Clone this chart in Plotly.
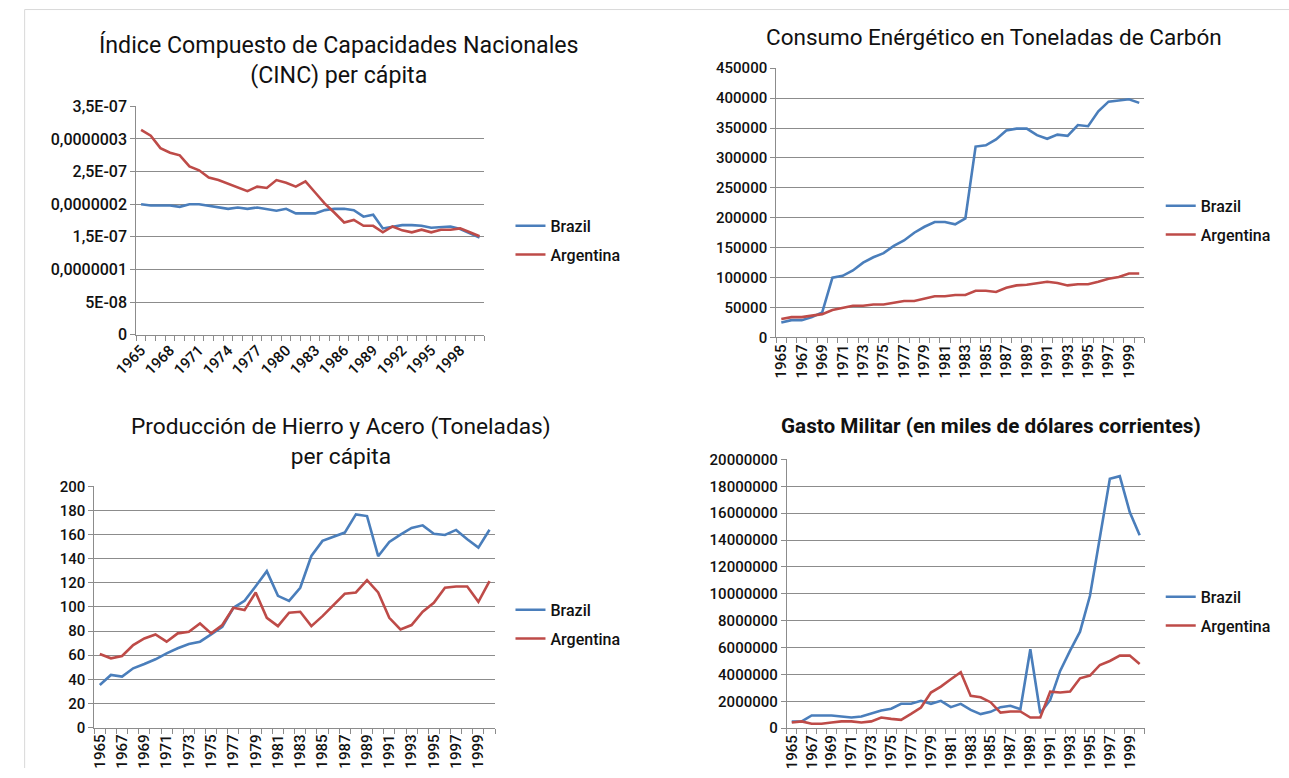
import plotly.graph_objects as go

years = list(range(1965, 2001))

# Chart 1: CINC per capita
cinc_brazil = [2.00e-7, 1.98e-7, 1.98e-7, 1.98e-7, 1.96e-7, 2.00e-7, 2.00e-7, 1.98e-7, 1.96e-7, 1.93e-7,
               1.95e-7, 1.93e-7, 1.95e-7, 1.92e-7, 1.90e-7, 1.93e-7, 1.86e-7, 1.86e-7, 1.86e-7, 1.91e-7,
               1.93e-7, 1.93e-7, 1.91e-7, 1.81e-7, 1.84e-7, 1.63e-7, 1.65e-7, 1.68e-7, 1.68e-7, 1.67e-7,
               1.64e-7, 1.65e-7, 1.66e-7, 1.62e-7, 1.56e-7, 1.49e-7]
cinc_argentina = [3.14e-7, 3.05e-7, 2.86e-7, 2.79e-7, 2.75e-7, 2.58e-7, 2.52e-7, 2.41e-7, 2.37e-7, 2.31e-7,
                  2.25e-7, 2.20e-7, 2.27e-7, 2.25e-7, 2.37e-7, 2.33e-7, 2.27e-7, 2.35e-7, 2.18e-7, 2.01e-7,
                  1.87e-7, 1.72e-7, 1.76e-7, 1.67e-7, 1.67e-7, 1.57e-7, 1.66e-7, 1.60e-7, 1.57e-7, 1.61e-7,
                  1.57e-7, 1.61e-7, 1.61e-7, 1.63e-7, 1.57e-7, 1.51e-7]
cinc_tickvals = [0, 5e-8, 1e-7, 1.5e-7, 2e-7, 2.5e-7, 3e-7, 3.5e-7]
cinc_ticktext = ["0", "5E-08", "0,0000001", "1,5E-07", "0,0000002", "2,5E-07", "0,0000003", "3,5E-07"]

# Chart 2: energy consumption
energy_brazil = [25000, 29000, 29000, 34000, 42000, 100000, 103000, 112000, 125000, 134000,
                 141000, 153000, 162000, 175000, 185000, 193000, 193000, 189000, 199000, 319000,
                 321000, 331000, 346000, 349000, 349000, 338000, 332000, 339000, 337000, 355000,
                 353000, 378000, 394000, 396000, 398000, 392000]
energy_argentina = [31000, 34000, 34000, 36000, 39000, 46000, 49000, 53000, 53000, 55000,
                    55000, 58000, 61000, 61000, 65000, 69000, 69000, 71000, 71000, 78000,
                    78000, 76000, 83000, 87000, 88000, 90000, 93000, 91000, 87000, 89000,
                    89000, 93000, 98000, 101000, 107000, 107000]

# Chart 3: iron and steel per capita
steel_brazil = [35.3, 43.6, 42.2, 49.1, 52.7, 56.6, 61.5, 65.7, 69.2, 71.2,
                77.2, 83.6, 99.3, 105.1, 117.2, 129.7, 109.2, 105.1, 115.9, 142.3,
                154.8, 158.1, 161.7, 176.8, 175.4, 142.1, 153.9, 160.0, 165.5, 167.7,
                160.8, 159.7, 163.9, 156.1, 149.2, 164.1]
steel_argentina = [61.0, 57.4, 59.3, 68.4, 73.9, 77.2, 71.2, 78.1, 79.4, 86.3,
                   78.1, 85.0, 99.3, 97.4, 112.0, 91.0, 84.1, 95.2, 96.0, 84.1,
                   92.4, 101.5, 110.9, 112.0, 122.2, 112.0, 91.0, 81.4, 85.0, 96.0,
                   103.4, 115.9, 117.0, 117.0, 104.3, 121.4]

# Chart 4: military spending
mil_brazil = [490000, 500000, 940000, 940000, 940000, 870000, 790000, 870000, 1110000, 1310000,
              1440000, 1810000, 1810000, 2030000, 1810000, 2030000, 1560000, 1810000, 1360000, 1040000,
              1210000, 1560000, 1660000, 1410000, 5870000, 1110000, 2100000, 4260000, 5770000, 7180000,
              9850000, 14180000, 18560000, 18760000, 16090000, 14360000]
mil_argentina = [420000, 500000, 320000, 320000, 420000, 500000, 500000, 420000, 500000, 790000,
                 690000, 620000, 1060000, 1530000, 2650000, 3090000, 3640000, 4160000, 2400000, 2300000,
                 1930000, 1160000, 1240000, 1240000, 790000, 790000, 2720000, 2650000, 2720000, 3710000,
                 3910000, 4700000, 5000000, 5400000, 5400000, 4780000]

series_names = ["Brazil", "Argentina"]
titles = [
    "Índice Compuesto de Capacidades Nacionales<br>(CINC) per cápita",
    "Consumo Enérgético en Toneladas de Carbón",
    "Producción de Hierro y Acero (Toneladas)<br>per cápita",
    "<b>Gasto Militar (en miles de dólares corrientes)</b>",
]

W, H = 1289, 778
# observed mapping of figure pixels onto the photographed picture
SX, SY, OX, OY = 0.981, 0.978, 20.8, 7.4
BLUE = "#4A7EBB"
RED = "#BE4B48"
GRID = "#8C8C8C"
FONT = "Roboto"
TXT = "#111111"


def fx(p):
    return (p - OX) / SX


def fy(p):
    return (p - OY) / SY


def px_x(p):
    return min(max(fx(p) / W, 0), 1)


def px_y(p):
    return min(max(1 - fy(p) / H, 0), 1)


fig = go.Figure()

panels = [
    dict(data=(cinc_brazil, cinc_argentina), xd=(133, 481), yd=(105, 334),
         yrange=[0, 3.5e-7], ytv=cinc_tickvals, ytt=cinc_ticktext, ydtick=None, ysize=16,
         xlab=list(range(1965, 2000, 3)), angle=-45,
         title_xy=(336, 59), tsize=23.2, leg=(512, 225)),
    dict(data=(energy_brazil, energy_argentina), xd=(772.7, 1140.7), yd=(66.7, 336.7),
         yrange=[0, 450000], ytv=None, ytt=None, ydtick=50000, ysize=15,
         xlab=list(range(1965, 2001, 2)), angle=-90,
         title_xy=(990, 35), tsize=22.5, leg=(1162, 205)),
    dict(data=(steel_brazil, steel_argentina), xd=(91, 491.7), yd=(486, 727.7),
         yrange=[0, 200], ytv=None, ytt=None, ydtick=20, ysize=15,
         xlab=list(range(1965, 2001, 2)), angle=-90,
         title_xy=(338, 441), tsize=22.7, leg=(512, 610)),
    dict(data=(mil_brazil, mil_argentina), xd=(783.3, 1141), yd=(459, 728.3),
         yrange=[0, 20000000], ytv=None, ytt=None, ydtick=2000000, ysize=15,
         xlab=list(range(1965, 2001, 2)), angle=-90,
         title_xy=(987, 425), tsize=20.7, leg=(1162, 597)),
]

annotations = []
for i, p in enumerate(panels, start=1):
    sfx = "" if i == 1 else str(i)
    legname = "legend" if i == 1 else f"legend{i}"
    for name, vals, col in zip(series_names, p["data"], (BLUE, RED)):
        fig.add_trace(go.Scatter(
            x=years, y=vals, mode="lines", name=name,
            line=dict(color=col, width=2.6),
            xaxis="x" + sfx, yaxis="y" + sfx,
            legend=legname, legendgroup=f"{name}{i}",
            hoverinfo="x+y",
        ))
    xa = dict(
        domain=[px_x(p["xd"][0]), px_x(p["xd"][1])],
        anchor="y" + sfx,
        range=[1964.5, 2000.5],
        tickmode="array", tickvals=p["xlab"], ticktext=[str(v) for v in p["xlab"]],
        tickangle=p["angle"], ticks="",
        showgrid=False, zeroline=False,
        showline=True, linecolor=GRID, linewidth=1,
        tickfont=dict(family=FONT, size=15, color=TXT, weight=500),
        minor=dict(tick0=1964.5, dtick=1, ticks="outside", ticklen=5,
                   tickcolor=GRID, tickwidth=1, showgrid=False),
        fixedrange=True,
    )
    ya = dict(
        domain=[px_y(p["yd"][1]), px_y(p["yd"][0])],
        anchor="x" + sfx,
        range=p["yrange"],
        showgrid=True, gridcolor=GRID, gridwidth=1,
        zeroline=False, showline=True, linecolor=GRID, linewidth=1,
        ticks="outside", ticklen=5, tickcolor=GRID,
        tickfont=dict(family=FONT, size=p["ysize"], color=TXT, weight=500),
        fixedrange=True,
    )
    if p["ytv"] is not None:
        ya.update(tickmode="array", tickvals=p["ytv"], ticktext=p["ytt"])
    else:
        ya.update(tickmode="linear", tick0=0, dtick=p["ydtick"], tickformat="d")
    fig.update_layout({"xaxis" + sfx: xa, "yaxis" + sfx: ya})
    # legend x: line sample begins 5px right of the legend box; first row centred ~17.7px below top
    lx = (fx(p["leg"][0]) - 5) / W
    ly = 1 - (fy(p["leg"][1]) - 17.7) / H
    fig.update_layout({legname: dict(
        x=lx, y=ly, xanchor="left", yanchor="top",
        font=dict(family=FONT, size=16, color=TXT, weight=500),
        bgcolor="rgba(0,0,0,0)", traceorder="grouped", tracegroupgap=5,
    )})
    annotations.append(dict(
        text=titles[i - 1], x=px_x(p["title_xy"][0]), y=px_y(p["title_xy"][1]),
        xref="paper", yref="paper", xanchor="center", yanchor="middle",
        showarrow=False, font=dict(family=FONT, size=p["tsize"], color=TXT),
    ))

fig.update_layout(
    autosize=True,
    margin=dict(l=0, r=0, t=0, b=0),
    paper_bgcolor="white", plot_bgcolor="white",
    annotations=annotations,
    showlegend=True,
    shapes=[
        dict(type="line", xref="paper", yref="paper", x0=0.0005, x1=1, y0=0.9993, y1=0.9993,
             line=dict(color="#D9D9D9", width=1)),
        dict(type="line", xref="paper", yref="paper", x0=0.0005, x1=0.0005, y0=0.9993, y1=0,
             line=dict(color="#D9D9D9", width=1)),
    ],
)

fig.write_html(
    "out.html",
    config={"displayModeBar": False, "responsive": True},
    default_width="100vw",
    default_height="100vh",
    post_script=(
        "document.body.style.margin='0';"
        "document.body.style.padding='0';"
        "document.body.style.overflow='hidden';"
        "document.documentElement.style.overflow='hidden';"
        "window.dispatchEvent(new Event('resize'));"
    ),
)
